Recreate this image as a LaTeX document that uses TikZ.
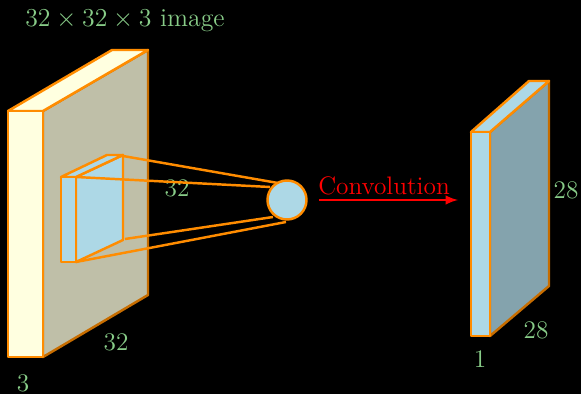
\documentclass[tikz,border=0pt]{standalone}
\definecolor{edgeorange}{HTML}{FF8C00}
\definecolor{labelgreen}{HTML}{88CC88}
\definecolor{sideyellow}{HTML}{BFBFA8}
\definecolor{sideblue}{HTML}{84A3AD}
\definecolor{faceblue}{HTML}{ADD8E6}
\definecolor{faceyellow}{HTML}{FFFFE0}
\tikzset{
  face/.style={draw=edgeorange, line width=1.4pt, line join=round},
  shade face/.style={draw=edgeorange!78!black, line width=1.4pt, line join=round},
  lbl/.style={text=labelgreen, font=\Large, inner sep=0pt},
}
\begin{document}
\begin{tikzpicture}[x=0.02cm, y=-0.02cm]
  \useasboundingbox[fill=black] (0,0) rectangle (581,394);

  % Input volume
  \draw[shade face, fill=sideyellow] (43,111) -- (148,50) -- (148,295) -- (43,357) -- cycle;
  \draw[face, fill=faceyellow] (8,111) -- (112,50) -- (148,50) -- (43,111) -- cycle;
  \draw[face, fill=faceyellow] (8,111) rectangle (43,357);

  % Receptive field
  \draw[face, fill=faceblue] (76,177) -- (123,155) -- (123,240) -- (76,262) -- cycle;
  \draw[face, fill=faceblue] (61,177) -- (107,155) -- (123,155) -- (76,177) -- cycle;
  \draw[face, fill=faceblue] (61,177) rectangle (76,262);

  % Labels of the input volume
  \node[lbl, scale=1.02] (title) at (125,21) {$32\times32\times3$ image};
  \node[lbl] (depthA) at (23,383) {3};
  \node[lbl] (widthA) at (116,342) {32};
  \node[lbl] (heightA) at (177,188) {32};

  % Neuron with its four rays
  \coordinate (rfTop) at (123,156);
  \coordinate (rfFront) at (76,177);
  \coordinate (rfSide) at (125,239);
  \coordinate (rfBottom) at (76,262);
  \coordinate (endTop) at (278,183);
  \coordinate (endFront) at (270,187);
  \coordinate (endSide) at (273,217);
  \coordinate (endBottom) at (286,222);
  \draw[face] (rfTop) -- (endTop);
  \draw[face] (rfFront) -- (endFront);
  \draw[face] (rfSide) -- (endSide);
  \draw[face] (rfBottom) -- (endBottom);
  \node[circle, draw=edgeorange, line width=1.4pt, fill=faceblue, minimum size=0.78cm, inner sep=0pt] (neuron) at (287,200) {};

  % Convolution arrow
  \coordinate (arrowStart) at (319,200);
  \coordinate (arrowEnd) at (458,200);
  \draw[red, line width=1.4pt, -latex] (arrowStart) -- (arrowEnd);
  \node[text=red, font=\Large, inner sep=0pt] (conv) at (384,186) {Convolution};

  % Output volume
  \draw[shade face, fill=sideblue] (490,132) -- (549,81) -- (549,286) -- (490,336) -- cycle;
  \draw[face, fill=faceblue] (471,132) -- (529,81) -- (549,81) -- (490,132) -- cycle;
  \draw[face, fill=faceblue] (471,132) rectangle (490,336);

  % Labels of the output volume
  \node[lbl] (depthB) at (480,359) {1};
  \node[lbl] (widthB) at (536,330) {28};
  \node[lbl] (heightB) at (566,190) {28};
\end{tikzpicture}
\end{document}
